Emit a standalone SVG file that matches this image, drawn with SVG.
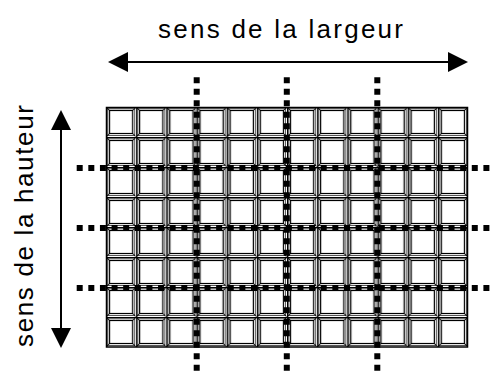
<svg xmlns="http://www.w3.org/2000/svg" width="496" height="372" viewBox="0 0 496 372">
<style>
.lbl{font-family:"Liberation Sans",Arial,sans-serif;font-size:26px;fill:#000}
.dot{stroke:#000;stroke-width:6;fill:none}
.ax{stroke:#000;stroke-width:2;fill:none}
</style>
<defs>
<pattern id="cell" patternUnits="userSpaceOnUse" x="106" y="107" width="30.1667" height="30">
<rect x="0" y="0" width="30.1667" height="30" fill="#fff"/>
<path d="M0.5,0V30M0,0.5H30.1667" stroke="#000" stroke-width="1.5" fill="none"/>
<path d="M1.7,1V29M1,1.7H29.17M28.67,1V29M1,28.5H29.17" stroke="#555" stroke-width="1" fill="none"/>
<rect x="3.5" y="3.5" width="23.17" height="23" fill="#fff" stroke="#000" stroke-width="1.2"/>
<path d="M0.5,0.5L3.5,3.5M29.67,0.5L26.67,3.5M0.5,29.5L3.5,26.5M29.67,29.5L26.67,26.5" stroke="#000" stroke-width="1"/>
</pattern>
</defs>
<g id="grid">
<rect x="106" y="107" width="362" height="240" fill="url(#cell)"/>
<rect x="106.5" y="107.5" width="361" height="239.5" fill="none" stroke="#000" stroke-width="1.5"/>
</g>
<g id="cuts">
<line class="dot" x1="196.7" y1="77.3" x2="196.7" y2="372" stroke-dasharray="6 5.5"/>
<line class="dot" x1="286.8" y1="77.3" x2="286.8" y2="372" stroke-dasharray="6 5.5"/>
<line class="dot" x1="377.3" y1="77.3" x2="377.3" y2="372" stroke-dasharray="6 5.5"/>
<line class="dot" x1="76.7" y1="168" x2="492" y2="168" stroke-dasharray="6 5.62"/>
<line class="dot" x1="76.7" y1="228" x2="492" y2="228" stroke-dasharray="6 5.62"/>
<line class="dot" x1="76.7" y1="288" x2="492" y2="288" stroke-dasharray="6 5.62"/>
</g>
<g id="axes">
<line class="ax" x1="120" y1="62" x2="456" y2="62"/>
<polygon points="108,62 128,52 128,72" fill="#000"/>
<polygon points="468,62 448,52 448,72" fill="#000"/>
<line class="ax" x1="61" y1="122" x2="61" y2="336"/>
<polygon points="61,110 51,130 71,130" fill="#000"/>
<polygon points="61,348 51,328 71,328" fill="#000"/>
</g>
<g id="labels">
<text class="lbl" x="280.5" y="38" text-anchor="middle" textLength="245" lengthAdjust="spacing">sens de la largeur</text>
<text class="lbl" transform="translate(33,226) rotate(-90)" text-anchor="middle" textLength="242" lengthAdjust="spacing">sens de la hauteur</text>
</g>
</svg>
